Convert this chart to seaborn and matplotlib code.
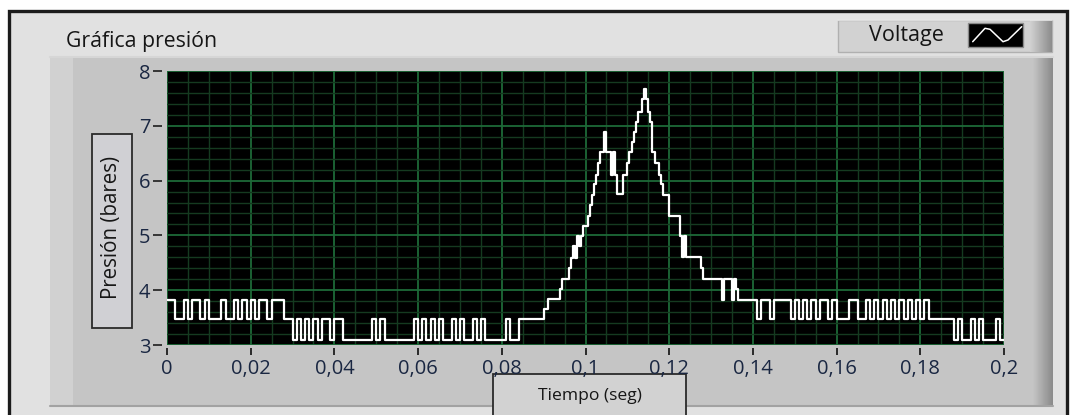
import numpy as np
import pandas as pd
import matplotlib
matplotlib.use("Agg")
import matplotlib.pyplot as plt
import seaborn as sns
from matplotlib.patches import Rectangle
from matplotlib.colors import LinearSegmentedColormap
from matplotlib.ticker import MultipleLocator, FixedLocator, FixedFormatter

# ---------------- data (pressure in bar) ----------------
# 0.000 - 0.028 s, 1 ms samples
p_seg_a = [3.82, 3.82, 3.47, 3.47, 3.82, 3.47, 3.82, 3.82, 3.47, 3.82,
           3.47, 3.47, 3.47, 3.82, 3.47, 3.47, 3.82, 3.47, 3.82, 3.47,
           3.82, 3.47, 3.82, 3.82, 3.47, 3.82, 3.82, 3.82]
# 0.028 - 0.094 s, 1 ms samples
p_seg_b = [3.47, 3.47,
           3.10, 3.47, 3.10, 3.47, 3.10, 3.47, 3.10, 3.47, 3.47, 3.10, 3.47, 3.47, 3.10,
           3.10, 3.10, 3.10, 3.10, 3.10, 3.10,
           3.47, 3.10, 3.47, 3.10,
           3.10, 3.10, 3.10, 3.10, 3.10, 3.10,
           3.47, 3.10, 3.47, 3.10, 3.47, 3.10, 3.47, 3.10, 3.10, 3.47, 3.10, 3.47,
           3.10, 3.10, 3.47, 3.10, 3.47, 3.10,
           3.10, 3.10, 3.10, 3.10,
           3.47, 3.10, 3.10,
           3.47, 3.47, 3.47, 3.47, 3.47, 3.47,
           3.66,
           3.84, 3.84, 3.84]
# 0.094 - 0.140 s, 0.5 ms samples (pressure peak)
p_seg_peak = [4.03, 4.21, 4.21, 4.21, 4.41, 4.59, 4.80, 4.59, 4.98, 4.80,
              4.98, 5.18, 5.18, 5.36, 5.55, 5.73, 5.93, 6.11, 6.33, 6.52,
              6.52, 6.88, 6.52, 6.52, 6.11, 6.52, 6.11, 5.75, 5.75, 5.75,
              6.11, 6.11, 6.33, 6.52, 6.70, 6.88, 7.07, 7.25, 7.25, 7.48,
              7.67, 7.48, 7.25, 7.07, 6.52, 6.33, 6.33, 6.11, 5.93, 5.73,
              5.73, 5.73, 5.36, 5.36, 5.36, 5.36, 5.36, 4.98, 4.60, 4.98,
              4.60, 4.60, 4.60, 4.60, 4.60, 4.60, 4.60, 4.41, 4.21, 4.21,
              4.21, 4.21, 4.21, 4.21, 4.21, 4.21, 4.21, 3.82, 4.21, 4.21,
              4.21, 4.21, 3.82, 4.21, 4.02, 3.82, 3.82, 3.82, 3.82, 3.82,
              3.82, 3.82]
# 0.140 - 0.200 s, 1 ms samples (last value = end point at 0.200 s)
p_seg_c = [3.82, 3.47, 3.82, 3.82, 3.47, 3.82, 3.82, 3.82, 3.82, 3.47,
           3.82, 3.47, 3.82, 3.47, 3.82, 3.47, 3.82, 3.82, 3.47, 3.82,
           3.47, 3.47, 3.47, 3.82, 3.82, 3.47, 3.47, 3.82, 3.47, 3.82,
           3.47, 3.82, 3.47, 3.82, 3.47, 3.82, 3.47, 3.82, 3.47, 3.82,
           3.47, 3.82,
           3.47, 3.47, 3.47, 3.47, 3.47,
           3.47, 3.10, 3.47, 3.10,
           3.10,
           3.47, 3.10, 3.47,
           3.10, 3.10, 3.10, 3.47, 3.10,
           3.10]

x_ticks = [0, 0.02, 0.04, 0.06, 0.08, 0.1, 0.12, 0.14, 0.16, 0.18, 0.2]
x_tick_labels = ["0", "0,02", "0,04", "0,06", "0,08", "0,1", "0,12", "0,14", "0,16", "0,18", "0,2"]
y_ticks = [3, 4, 5, 6, 7, 8]
y_tick_labels = ["3", "4", "5", "6", "7", "8"]

title_text = "Gráfica presión"
legend_text = "Voltage"
y_label_text = "Presión (bares)"
x_label_text = "Tiempo (seg)"

# sampling times
p_lowres = p_seg_a + p_seg_b
t_lowres = np.arange(len(p_lowres)) * 0.001
t_peak = 0.094 + np.arange(len(p_seg_peak)) * 0.0005
t_tail = 0.140 + np.arange(len(p_seg_c)) * 0.001
df = pd.DataFrame({
    "t": np.round(np.concatenate([t_lowres, t_peak, t_tail]), 6),
    "p": np.concatenate([p_lowres, p_seg_peak, p_seg_c]),
})

# ---------------- figure ----------------
sns.set_theme(style="white")
plt.rcParams["font.family"] = ["Open Sans", "DejaVu Sans"]

W, Hh = 1078, 415
fig = plt.figure(figsize=(W / 100, Hh / 100), dpi=100, facecolor="white")

bg = fig.add_axes([0, 0, 1, 1])
bg.set_xlim(0, W)
bg.set_ylim(Hh, 0)
bg.axis("off")


def rect(x0, y0, x1, y1, **kw):
    bg.add_patch(Rectangle((x0, y0), x1 - x0, y1 - y0, **kw))


def hgrad(x0, y0, x1, y1, c0, c1):
    cmap = LinearSegmentedColormap.from_list("g", [c0, c1])
    bg.imshow(np.linspace(0, 1, 64)[None, :], cmap=cmap, aspect="auto",
              extent=(x0, x1, y1, y0), interpolation="bilinear", zorder=2)


txt_color = "#161616"

# outer panel with dark border
rect(9, 11, 1067, 430, facecolor="#e1e1e1", edgecolor="#1b1b1b", lw=2.4, zorder=1)

# graph frame
rect(50, 57, 1053, 406, facecolor="#c5c5c5", edgecolor="none", zorder=1.5)
rect(50, 57, 73, 406, facecolor="#d1d1d1", edgecolor="none", zorder=1.6)
hgrad(1033, 57, 1053, 406, "#c5c5c5", "#8a8a8a")
bg.plot([50, 1053], [406, 406], color="#a2a2a2", lw=1.5, zorder=3)
bg.plot([50, 1053], [57.5, 57.5], color="#d6d6d6", lw=1.5, zorder=3)

# legend box
rect(838, 20, 1052, 52, facecolor="#d2d2d2", edgecolor="#b0b0b0", lw=1, zorder=1.5)
hgrad(1030, 20, 1052, 52, "#d2d2d2", "#8c8c8c")
bg.plot([838, 1052], [20.5, 20.5], color="#e6e6e6", lw=1.2, zorder=3)
rect(968, 23, 1023, 47, facecolor="black", edgecolor="#8a8a8a", lw=1, zorder=4)
bg.plot([972.7, 985, 990, 1003, 1008, 1021.7], [41.7, 28.3, 29.3, 41.7, 40, 26.7],
        color="white", lw=1.1, zorder=5)
bg.text(869, 36, legend_text, ha="left", va="center", fontsize=15.5,
        color=txt_color, zorder=5)

# title
bg.text(66, 42, title_text, ha="left", va="center", fontsize=15.3,
        color=txt_color, zorder=5)

# y label box
rect(92, 134, 132, 328, facecolor="#d0d0d4", edgecolor="#2a2a2a", lw=1.3, zorder=4)
bg.text(112, 227, y_label_text, ha="center", va="center", rotation=90,
        fontsize=14.8, color=txt_color, zorder=5)

# x label box
rect(493, 374, 686, 430, facecolor="#d2d2d2", edgecolor="#2a2a2a", lw=1.3, zorder=4)
bg.text(589.5, 396, x_label_text, ha="center", va="center",
        fontsize=12.6, color=txt_color, zorder=5)

# ---------------- plot area ----------------
left, right, top, bottom = 167, 1004, 71, 345
ax = fig.add_axes([left / W, 1 - bottom / Hh, (right - left) / W, (bottom - top) / Hh])
ax.set_facecolor("black")
ax.set_zorder(3)

sns.lineplot(data=df, x="t", y="p", ax=ax, estimator=None, sort=False,
             drawstyle="steps-post", color="white", lw=1.6)

ax.set_xlim(0, 0.2)
ax.set_ylim(3, 8)
ax.xaxis.set_major_locator(FixedLocator(x_ticks))
ax.xaxis.set_major_formatter(FixedFormatter(x_tick_labels))
ax.yaxis.set_major_locator(FixedLocator(y_ticks))
ax.yaxis.set_major_formatter(FixedFormatter(y_tick_labels))
ax.xaxis.set_minor_locator(MultipleLocator(0.005))
ax.yaxis.set_minor_locator(MultipleLocator(0.2))

ax.set_axisbelow(True)
ax.grid(which="minor", color="#153a20", lw=1.0)
ax.grid(which="major", color="#1d6a38", lw=1.3)

for s in ax.spines.values():
    s.set_visible(False)
ax.spines["left"].set_position(("outward", 3.5))
ax.spines["bottom"].set_position(("outward", 2.5))

lab_color = "#1a2742"
ax.tick_params(axis="y", which="major", direction="out", length=6.5, width=1.3,
               color="#2a2a2a", pad=2, labelsize=14.5, labelcolor=lab_color, left=True)
ax.tick_params(axis="x", which="major", direction="out", length=5, width=1.4,
               color="#2a2a2a", pad=2.5, labelsize=14.5, labelcolor=lab_color, bottom=True)
ax.tick_params(which="minor", length=0)
ax.set_xlabel("")
ax.set_ylabel("")
if ax.get_legend() is not None:
    ax.get_legend().remove()

fig.savefig("out.png", dpi=100, facecolor="white")
